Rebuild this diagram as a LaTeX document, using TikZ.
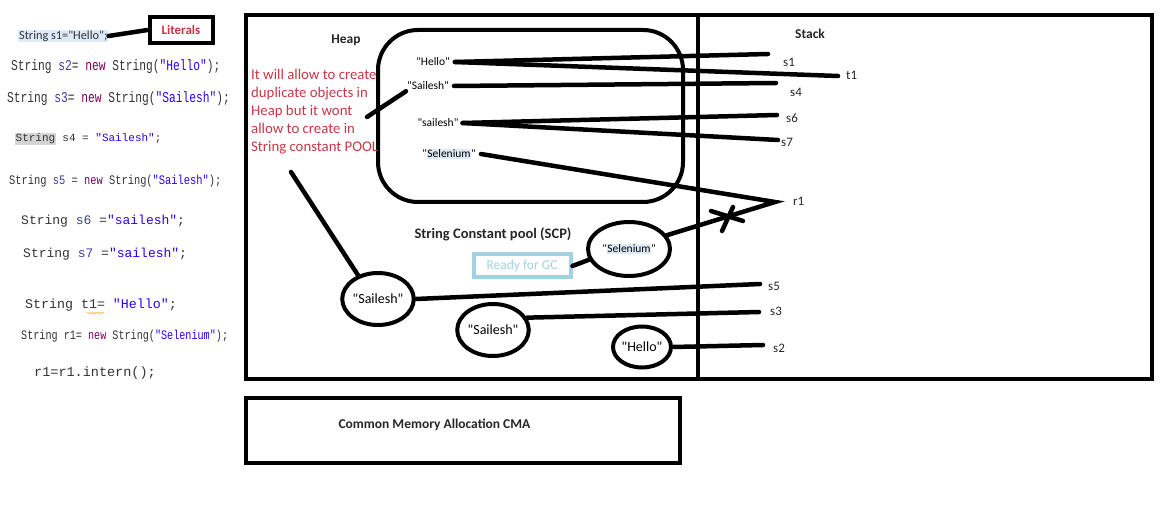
\documentclass[tikz,border=0pt]{standalone}
\usepackage{fontspec}
\setmainfont{Carlito}[Ligatures=TeXOff]
\newfontfamily\codefont{Liberation Mono}[Ligatures=TeXOff]
\usetikzlibrary{shapes.geometric,decorations.pathmorphing}
\definecolor{notered}{RGB}{200,55,70}
\definecolor{hlblue}{RGB}{222,234,248}
\definecolor{hlgray}{RGB}{212,212,212}
\definecolor{gcblue}{RGB}{160,210,225}
\definecolor{jkwcol}{RGB}{127,0,85}
\definecolor{jstrcol}{RGB}{42,0,255}
\definecolor{jvarcol}{RGB}{60,60,160}
\newcommand{\jkw}[1]{\textcolor{jkwcol}{#1}}
\newcommand{\jstr}[1]{\textcolor{jstrcol}{#1}}
\newcommand{\jvar}[1]{\textcolor{jvarcol}{#1}}
\newcommand{\hlbox}[2]{{\fboxsep=0.5pt\colorbox{#1}{#2}}}
\newcommand{\narrow}[2]{\scalebox{#1}[1]{#2}}
\begin{document}
\begin{tikzpicture}[x=1pt,y=-1pt,
    wire/.style={line width=4.5pt,line cap=round},
    frame/.style={line width=4pt},
    boxtitle/.style={font=\fontsize{13.5}{15}\selectfont\bfseries,text=black!85},
    ref/.style={font=\fontsize{13}{15}\selectfont,inner sep=1pt,anchor=west,text=black!85},
    heapstr/.style={font=\fontsize{11.5}{13}\selectfont,inner sep=1pt},
    obj/.style={draw,ellipse,line width=4pt,inner sep=0pt,font=\fontsize{14}{16}\selectfont},
    code/.style={anchor=west,inner sep=1pt,text=black!80}]
    \useasboundingbox (0,0) rectangle (1165,521);
    % source lines
    \node[code,font=\fontsize{12.3}{14}\selectfont,fill=hlblue] (src1) at (18,36) {String s1="Hello";};
    \node[draw,frame,minimum width=63,minimum height=26,text=notered,font=\fontsize{13}{15}\selectfont\bfseries] (lit) at (181,30) {Literals};
    \draw[wire] (src1.east) -- (lit.west);
    \node[code,font=\codefont\fontsize{15}{17}\selectfont] (src2) at (10,67) {\narrow{0.75}{String \jvar{s2}= \jkw{new} String(\jstr{"Hello"});}};
    \node[code,font=\codefont\fontsize{15}{17}\selectfont] (src3) at (6,99) {\narrow{0.75}{String \jvar{s3}= \jkw{new} String(\jstr{"Sailesh"});}};
    \node[code,font=\codefont\fontsize{11}{13}\selectfont] (src4) at (14,139) {\hlbox{hlgray}{String} s4 = \jstr{"Sailesh"};};
    \node[code,font=\codefont\fontsize{13}{15}\selectfont] (src5) at (8,181) {\narrow{0.8}{String \jvar{s5} = \jkw{new} String(\jstr{"Sailesh"});}};
    \node[code,font=\codefont\fontsize{13}{15}\selectfont] (src6) at (20,221) {String \jvar{s6} =\jstr{"sailesh"};};
    \node[code,font=\codefont\fontsize{13}{15}\selectfont] (src7) at (22,254) {String \jvar{s7} =\jstr{"sailesh"};};
    \node[code,font=\codefont\fontsize{13.3}{15}\selectfont] (srct) at (24,305) {String t1= \jstr{"Hello"};};
    \draw[decorate,decoration={snake,amplitude=0.7pt,segment length=3pt},draw=orange!70!yellow,thin] (87,313) -- (104,313);
    \node[code,font=\codefont\fontsize{13}{15}\selectfont] (srcr) at (20,336) {\narrow{0.78}{String r1= \jkw{new} String(\jstr{"Selenium"});}};
    \node[code,font=\codefont\fontsize{13.5}{15}\selectfont] (srci) at (33,373) {r1=r1.intern();};
    % memory
    \draw[frame] (246,15) rectangle (1152,379);
    \draw[frame] (698,15) -- (698,379);
    \draw[frame,rounded corners=40pt] (378,30) rectangle (683,202);
    \node[boxtitle] (heap) at (346,40) {Heap};
    \node[boxtitle] (stack) at (810,34) {Stack};
    \node[boxtitle,font=\fontsize{14.5}{16}\selectfont\bfseries] (scp) at (493,234) {String Constant pool (SCP)};
    \node[anchor=north west,align=left,inner sep=0pt,text=notered,font=\fontsize{14.8}{18}\selectfont] (note) at (251,69) {It will allow to create\\duplicate objects in\\Heap but it wont\\allow to create in\\String constant POOL};
    \node[heapstr] (hhello) at (433,62) {"Hello"};
    \node[heapstr] (hsail) at (428,86) {"Sailesh"};
    \node[heapstr] (hsmall) at (438,123) {"sailesh"};
    \node[heapstr] (hselen) at (449,154) {"\hlbox{hlblue}{Selenium}"};
    \node[obj,minimum width=82,minimum height=54,font=\fontsize{11.5}{13}\selectfont] (cselen) at (629,249) {"\hlbox{hlblue}{Selenium}"};
    \node[draw=gcblue,frame,minimum width=97,minimum height=23,text=gcblue,font=\fontsize{13.5}{15}\selectfont] (gc) at (522,266) {Ready for GC};
    \node[obj,minimum width=64,minimum height=52] (csail1) at (378,299) {"Sailesh"};
    \node[obj,minimum width=62,minimum height=52] (csail2) at (493,330) {"Sailesh"};
    \node[obj,minimum width=58,minimum height=41] (chello) at (642,347) {"Hello"};
    \coordinate (notetip) at (367,117);
    \coordinate (notefoot) at (291,172);
    \coordinate (r1tip) at (775,202);
    % stack ends
    \coordinate (s1end) at (768,54);
    \coordinate (t1end) at (838,76);
    \coordinate (s4end) at (776,83);
    \coordinate (s6end) at (777,115);
    \coordinate (s7end) at (778,140);
    \coordinate (s5end) at (760,284);
    \coordinate (s3end) at (759,312);
    \coordinate (s2end) at (763,345);
    \node[ref] (s1) at (782,62) {s1};
    \node[ref] (t1) at (845,75) {t1};
    \node[ref] (s4) at (789,92) {s4};
    \node[ref] (s6) at (785,118) {s6};
    \node[ref] (s7) at (780,142) {s7};
    \node[ref] (r1) at (792,201) {r1};
    \node[ref] (s5) at (767,286) {s5};
    \node[ref] (s3) at (769,311) {s3};
    \node[ref] (s2) at (772,348) {s2};
    \draw[wire] (hhello.east) ++(4,0) -- (s1end);
    \draw[wire] (hhello.east) ++(4,0) -- (t1end);
    \draw[wire] (hsail.east) ++(4,0) -- (s4end);
    \draw[wire] (hsmall.east) ++(3,0) -- (s6end);
    \draw[wire] (hsmall.east) ++(3,0) -- (s7end);
    \draw[wire] (hselen.east) ++(4,0) -- (r1tip) -- (cselen.20);
    \draw[wire] (711,211) -- (743,221);
    \draw[wire] (733,207) -- (722,231);
    \draw[wire] (gc.east) -- (cselen.195);
    \draw[wire] (notetip) -- (hsail.south west);
    \draw[wire] (notefoot) -- (csail1.130);
    \draw[wire] (csail1.east) -- (s5end);
    \draw[wire] (csail2.20) -- (s3end);
    \draw[wire] (chello.east) -- (s2end);
    \draw[frame] (246,398) rectangle (680,463);
    \node[boxtitle,anchor=west] (cma) at (335,425) {Common Memory Allocation CMA};
\end{tikzpicture}
\end{document}
